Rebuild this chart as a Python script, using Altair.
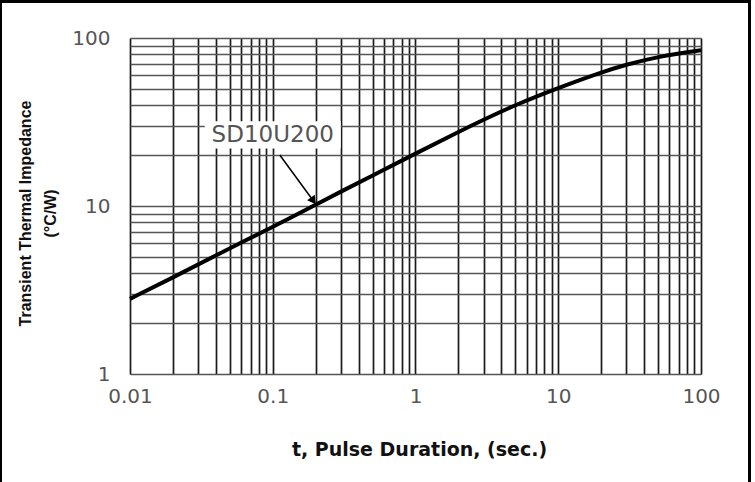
import altair as alt
import pandas as pd

# Curve
t_sec = [0.01, 0.02, 0.04, 0.1, 0.2, 0.5, 1, 2, 3, 5, 10, 20, 30, 50, 100]
z_cw = [2.8, 3.75, 5.1, 7.5, 10.2, 15.2, 20.5, 27.6, 32.6, 40.0, 50.5, 62.5, 69.5, 77.5, 84.5]

x_grid = [m * d for d in [0.01, 0.1, 1, 10] for m in range(1, 10)] + [100]
y_grid = [m * d for d in [1, 10] for m in range(1, 10)] + [100]

label_name = ["SD10U200"]
label_t = [0.1]
label_z = [26.5]

arrow_t = [0.112, 0.19]
arrow_z = [20.1, 10.9]

curve = pd.DataFrame({"t": t_sec, "z": z_cw})

xs = alt.Scale(type="log", domain=[0.01, 100], nice=False)
ys = alt.Scale(type="log", domain=[1, 100], nice=False)

dec_expr = "indexof([0.01,0.1,1,10,100], datum.value) >= 0 ? datum.label : ''"
ydec_expr = "indexof([1,10,100], datum.value) >= 0 ? datum.label : ''"

x_axis = alt.Axis(
    values=x_grid, format="~g", labelExpr=dec_expr, grid=True, gridColor="#1a1a1a",
    gridWidth=1.7, gridOpacity=1, ticks=False, domain=False,
    labelFont="DejaVu Sans", labelFontSize=20, labelColor="#555", labelPadding=12,
    labelFlush=False, labelOverlap=False,
    title="t, Pulse Duration, (sec.)", titleFont="DejaVu Sans", titleFontSize=19,
    titleFontWeight="bold", titleColor="#111", titleY=75, titleX=289,
    titleBaseline="middle",
)
y_axis = alt.Axis(
    values=y_grid, format="~g", labelExpr=ydec_expr, grid=True, gridColor="#555",
    gridWidth=1.4, gridOpacity=1, ticks=False, domain=False,
    labelFont="DejaVu Sans", labelFontSize=20, labelColor="#555", labelPadding=20,
    labelFlush=False, labelOverlap=False, labelBaseline="middle",
    title=["Transient Thermal Impedance", "(°C/W)"], titleFont="Liberation Sans",
    titleFontSize=16, titleFontWeight="bold", titleColor="#111", titleAngle=270,
    titleX=-105, titleY=175, titleBaseline="middle", titleLineHeight=25,
)

line = alt.Chart(curve).mark_line(color="black", strokeWidth=4, interpolate="basis").encode(
    x=alt.X("t:Q", scale=xs, axis=x_axis),
    y=alt.Y("z:Q", scale=ys, axis=y_axis),
)

lab_df = pd.DataFrame({"t": label_t, "z": label_z, "name": label_name})

lab_bg = alt.Chart(lab_df).mark_point(
    shape="M-1,-0.2L1,-0.2L1,0.2L-1,0.2Z", filled=True, color="white", size=18500,
    opacity=1, strokeWidth=0
).encode(x=alt.X("t:Q", scale=xs), y=alt.Y("z:Q", scale=ys))

lab = alt.Chart(lab_df).mark_text(
    font="DejaVu Sans", fontSize=23, color="#555"
).encode(x=alt.X("t:Q", scale=xs), y=alt.Y("z:Q", scale=ys), text="name:N")

arr = alt.Chart(pd.DataFrame({"t": arrow_t, "z": arrow_z, "o": [0, 1]})).mark_line(
    color="black", strokeWidth=1.5
).encode(x=alt.X("t:Q", scale=xs), y=alt.Y("z:Q", scale=ys), order="o:O")

head = alt.Chart(pd.DataFrame({"t": [arrow_t[1]], "z": [arrow_z[1]]})).mark_point(
    shape="triangle", filled=True, color="black", size=90, angle=144, opacity=1
).encode(x=alt.X("t:Q", scale=xs), y=alt.Y("z:Q", scale=ys))

frame_top = alt.Chart().mark_rule(color="black", strokeWidth=3, clip=False).encode(
    x=alt.value(-130), x2=alt.value(621), y=alt.value(-36.5))
frame_left = alt.Chart().mark_rule(color="black", strokeWidth=2, clip=False).encode(
    x=alt.value(-129), y=alt.value(-38), y2=alt.value(444))
frame_right = alt.Chart().mark_rule(color="black", strokeWidth=3, clip=False).encode(
    x=alt.value(619.5), y=alt.value(-38), y2=alt.value(444))

chart = alt.layer(line, lab_bg, arr, head, lab, frame_top, frame_left, frame_right).properties(
    width=571, height=336,
    autosize=alt.AutoSizeParams(type="none"),
    padding={"left": 130, "top": 38, "right": 54, "bottom": 108},
).configure_view(stroke="#222", strokeWidth=1.5).configure(background="white")

chart.save("out.html", embed_options={"renderer": "svg", "actions": False})
